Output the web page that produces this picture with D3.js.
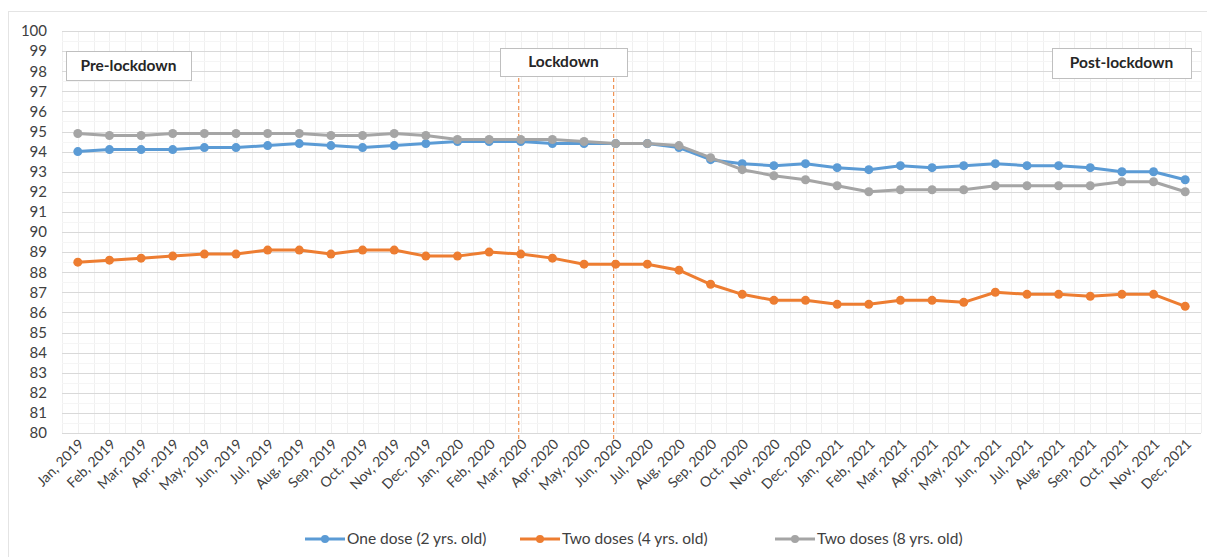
<!DOCTYPE html>
<html>
<head>
<meta charset="utf-8">
<script src="https://cdn.jsdelivr.net/npm/d3@7"></script>
<style>
  body { margin: 0; background: #fff; }
  svg { font-family: Lato, "Open Sans", sans-serif; }
</style>
</head>
<body>
<svg id="chart" width="1207" height="557"></svg>
<script>
// month labels on the x axis
const months = ['Jan, 2019','Feb, 2019','Mar, 2019','Apr, 2019','May, 2019','Jun, 2019','Jul, 2019','Aug, 2019','Sep, 2019','Oct, 2019','Nov, 2019','Dec, 2019',
  'Jan, 2020','Feb, 2020','Mar, 2020','Apr, 2020','May, 2020','Jun, 2020','Jul, 2020','Aug, 2020','Sep, 2020','Oct, 2020','Nov, 2020','Dec, 2020',
  'Jan, 2021','Feb, 2021','Mar, 2021','Apr, 2021','May, 2021','Jun, 2021','Jul, 2021','Aug, 2021','Sep, 2021','Oct, 2021','Nov, 2021','Dec, 2021']

const oneDose2 = [94.0,94.1,94.1,94.1,94.2,94.2,94.3,94.4,94.3,94.2,94.3,94.4,
  94.5,94.5,94.5,94.4,94.4,94.4,94.4,94.2,93.6,93.4,93.3,93.4,
  93.2,93.1,93.3,93.2,93.3,93.4,93.3,93.3,93.2,93.0,93.0,92.6]
const twoDoses4 = [88.5,88.6,88.7,88.8,88.9,88.9,89.1,89.1,88.9,89.1,89.1,88.8,
  88.8,89.0,88.9,88.7,88.4,88.4,88.4,88.1,87.4,86.9,86.6,86.6,
  86.4,86.4,86.6,86.6,86.5,87.0,86.9,86.9,86.8,86.9,86.9,86.3]
const twoDoses8 = [94.9,94.8,94.8,94.9,94.9,94.9,94.9,94.9,94.8,94.8,94.9,94.8,
  94.6,94.6,94.6,94.6,94.5,94.4,94.4,94.3,93.7,93.1,92.8,92.6,
  92.3,92.0,92.1,92.1,92.1,92.3,92.3,92.3,92.3,92.5,92.5,92.0]

const seriesNames = ['One dose (2 yrs. old)', 'Two doses (4 yrs. old)', 'Two doses (8 yrs. old)']
const seriesColors = ['#5B9BD5', '#ED7D31', '#A5A5A5']
const yTicks = d3.range(80, 101, 1)

// months where the dashed lockdown lines sit
const lockdownStart = 'Mar, 2020'
const lockdownEnd = 'Jun, 2020'

const svg = d3.select('#chart')
const margin = {top: 31, left: 62, right: 6, bottom: 124}
const width = 1207, height = 557
const inW = width - margin.left - margin.right
const inH = height - margin.top - margin.bottom

// outer frame
svg.append('rect')
  .attr('x', 8.5).attr('y', 11.5)
  .attr('width', width - 8).attr('height', height)
  .attr('fill', 'none').attr('stroke', '#e4e4e4')

const xScale = d3.scaleBand().domain(months).range([0, inW])
const yScale = d3.scaleLinear().domain([80, 100]).range([inH, 0])
const xc = d => xScale(d) + xScale.bandwidth() / 2

const g = svg.append('g').attr('transform', `translate(${margin.left},${margin.top})`)

// minor grid
const minorX = []
months.forEach(m => { minorX.push(xScale(m)); minorX.push(xc(m)) })
minorX.push(inW)
g.selectAll('.minor-x').data(minorX).join('line')
  .attr('x1', d => Math.round(d) + 0.5).attr('x2', d => Math.round(d) + 0.5)
  .attr('y1', 0).attr('y2', inH)
  .attr('stroke', '#f0f0f0').attr('stroke-width', 1)
g.selectAll('.minor-y').data(d3.range(80.5, 100, 1)).join('line')
  .attr('x1', 0).attr('x2', inW)
  .attr('y1', d => Math.round(yScale(d)) + 0.5).attr('y2', d => Math.round(yScale(d)) + 0.5)
  .attr('stroke', '#f5f5f5')

// major grid
g.selectAll('.major-y').data(yTicks).join('line')
  .attr('x1', 0).attr('x2', inW)
  .attr('y1', d => Math.round(yScale(d)) + 0.5).attr('y2', d => Math.round(yScale(d)) + 0.5)
  .attr('stroke', '#d9d9d9').attr('stroke-width', 1)

// y axis labels
const yAxis = d3.axisLeft(yScale).tickValues(yTicks).tickSize(0).tickPadding(15)
const yG = g.append('g').call(yAxis)
yG.select('.domain').remove()
yG.selectAll('text').attr('font-size', 15).attr('fill', '#404040')
  .attr('font-family', 'Lato, "Open Sans", sans-serif')

// x axis labels
const xAxis = d3.axisBottom(xScale).tickSize(0).tickPadding(0)
const xG = g.append('g').attr('transform', `translate(0,${inH})`).call(xAxis)
xG.select('.domain').remove()
xG.selectAll('text')
  .attr('font-size', 14).attr('fill', '#404040')
  .attr('font-family', 'Lato, "Open Sans", sans-serif')
  .style('text-anchor', 'end')
  .attr('dy', 0)
  .attr('transform', 'translate(7,12) rotate(-45)')

// dashed lockdown lines
g.selectAll('.lock').data([lockdownStart, lockdownEnd]).join('line')
  .attr('x1', d => xc(d) - 2).attr('x2', d => xc(d) - 2)
  .attr('y1', 47).attr('y2', inH + 8)
  .attr('stroke', '#ED7D31').attr('stroke-width', 1)
  .attr('stroke-dasharray', '4,3')

// series lines and markers
const allSeries = [oneDose2, twoDoses4, twoDoses8]
const line = d3.line().x((d, i) => xc(months[i])).y(d => yScale(d))
const drawOrder = [1, 0, 2]
drawOrder.forEach(k => {
  const vals = allSeries[k]
  g.append('path').datum(vals)
    .attr('d', line)
    .attr('fill', 'none')
    .attr('stroke', seriesColors[k])
    .attr('stroke-width', 3)
    .attr('stroke-linejoin', 'round')
  g.selectAll('.pt' + k).data(vals).join('circle')
    .attr('cx', (d, i) => xc(months[i]))
    .attr('cy', d => yScale(d))
    .attr('r', 4.5)
    .attr('fill', seriesColors[k])
})

// annotation boxes
const boxes = [
  {label: 'Pre-lockdown', x: 66, y: 51, w: 125, h: 29},
  {label: 'Lockdown', x: 500, y: 48, w: 127, h: 28},
  {label: 'Post-lockdown', x: 1052, y: 48, w: 139, h: 30}
]
const bg = svg.selectAll('.ann').data(boxes).join('g')
bg.append('rect')
  .attr('x', d => d.x + 0.5).attr('y', d => d.y + 0.5)
  .attr('width', d => d.w).attr('height', d => d.h)
  .attr('fill', '#fff').attr('stroke', '#bfbfbf').attr('stroke-width', 1)
bg.append('text')
  .attr('x', d => d.x + d.w / 2).attr('y', d => d.y + d.h / 2 + 5)
  .attr('text-anchor', 'middle')
  .attr('font-size', 15.5).attr('font-weight', 'bold').attr('fill', '#262626')
  .text(d => d.label)

// legend
const legendX = [305, 520, 775]
const lg = svg.selectAll('.leg').data(seriesNames).join('g')
  .attr('transform', (d, i) => `translate(${legendX[i]},539)`)
lg.append('line').attr('x1', 0).attr('x2', 40).attr('y1', 0).attr('y2', 0)
  .attr('stroke', (d, i) => seriesColors[i]).attr('stroke-width', 3)
lg.append('circle').attr('cx', 20).attr('cy', 0).attr('r', 4)
  .attr('fill', (d, i) => seriesColors[i])
lg.append('text').attr('x', 42).attr('y', 5)
  .attr('font-size', 15.5).attr('fill', '#404040')
  .text(d => d)
</script>
</body>
</html>
